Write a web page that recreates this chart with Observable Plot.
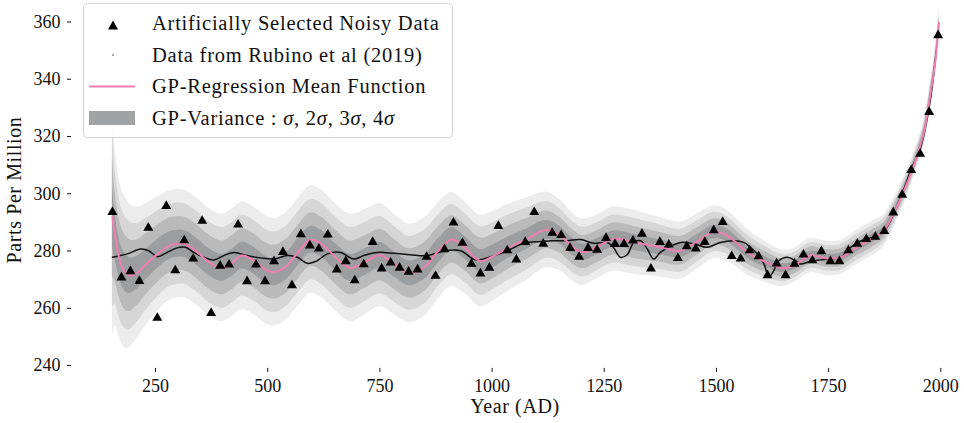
<!DOCTYPE html>
<html><head><meta charset="utf-8">
<script src="https://cdn.jsdelivr.net/npm/d3@7"></script>
<script src="https://cdn.jsdelivr.net/npm/@observablehq/plot@0.6"></script>
<style>
body{margin:0;background:#fff;}
#wrap{position:relative;width:964px;height:423px;font-family:"Liberation Serif","DejaVu Serif",serif;color:#111;}
#legend{position:absolute;left:83px;top:3px;width:370px;height:135px;border:1px solid #d4d4d4;border-radius:4px;background:rgba(255,255,255,0.85);box-sizing:border-box;}
.lt{position:absolute;left:68px;font-size:20.5px;letter-spacing:0.75px;line-height:20px;white-space:nowrap;}
.ax{position:absolute;font-size:20px;letter-spacing:0.6px;white-space:nowrap;}
</style></head>
<body><div id="wrap"></div>
<script>
// GP regression mean and standard deviation
const gpYears=[154,160,167,175,185,194,210,230,255,280,313,340,370,399,420,443,470,495,514,540,570,595,620,650,684,715,751,785,815,850,880,910,940,974,1000,1034,1078,1121,1152,1175,1201,1234,1271,1316,1375,1420,1457,1494,1524,1569,1606,1647,1672,1710,1747,1777,1814,1851,1873,1895,1918,1940,1962,1977,1988,1996];
const gpMean=[292,285,279,274.5,272,271.4,272.5,275.5,279,281.8,282.5,280,276,274.1,275.8,278.4,276.5,273.5,272.6,274.5,280,283.9,282.5,278,274.1,276,278.5,275,272.2,274.5,280,284,281,276.5,278,281,284.2,287.4,285.4,282,279.6,281.5,284.2,283.0,281.3,280.1,283.3,286.6,285.4,279.5,276.4,274.0,274.9,278.4,277.4,277.8,281.4,284.7,287.1,293.2,301.1,310,321,334.8,346.5,359.8];
const gpSigma=[10.5,7.8,7.0,6.7,6.5,6.2,5.7,5.3,5.0,4.8,4.7,4.7,4.7,4.7,4.7,4.7,4.7,4.7,4.7,4.7,4.7,4.7,4.7,4.7,4.7,4.6,4.5,4.4,4.3,4.3,4.2,4.1,4.0,4.0,3.9,3.8,3.6,3.3,3.1,3.0,2.9,2.8,2.8,2.8,2.6,2.5,2.4,2.3,2.2,2.0,1.8,1.6,1.5,1.5,1.5,1.5,1.5,1.5,1.4,1.3,1.2,1.1,1.1,1.1,1.1,1.1];

// Artificially selected noisy data (triangles)
const noisyYears=[154,174,194,214,234,254,274,294,314,334,354,374,394,414,434,454,474,494,514,534,554,574,594,614,634,654,674,694,714,734,754,774,794,814,834,854,874,894,914,934,954,974,994,1014,1034,1054,1074,1094,1114,1134,1154,1174,1194,1214,1234,1254,1274,1294,1314,1334,1354,1374,1394,1414,1434,1454,1474,1494,1514,1534,1554,1574,1594,1614,1634,1654,1674,1694,1714,1734,1754,1774,1794,1814,1834,1854,1874,1894,1914,1934,1954,1974,1994];
const noisyPPM=[294.1,271.2,273.4,270.0,288.6,257.1,296.2,273.7,284.2,277.8,291.0,258.8,275.3,275.7,289.7,269.9,275.7,269.9,276.9,280.1,268.5,286.3,282.4,281.3,286.2,274.0,276.9,270.2,275.8,283.6,274.3,276.4,274.6,273.2,274.0,278.4,271.8,281.1,290.4,283.3,276.0,272.6,274.6,289.2,280.7,277.5,283.6,294.1,283.0,286.8,286.0,281.5,278.4,281.5,280.9,285.0,282.9,282.9,284.1,286.5,274.3,283.6,282.7,278.0,282.1,281.3,283.6,287.7,290.6,278.7,277.8,280.7,278.6,272.0,276.1,272.0,276.0,279.2,277.2,280.4,276.9,276.9,280.7,283.0,284.6,285.4,287.4,293.9,300.1,308.7,314.4,329.0,355.8];

// Data from Rubino et al (2019) (black curve)
const rubinoYears=[154,187,217,235,254,276,298,317,335,358,380,402,425,454,484,514,544,566,588,610,633,662,692,714,744,781,818,856,893,930,963,997,1034,1071,1108,1138,1167,1197,1227,1257,1271,1286,1301,1316,1331,1346,1360,1375,1394,1420,1450,1479,1509,1539,1561,1576,1591,1606,1617,1628,1639,1658,1676,1687,1710,1747,1777,1791,1814,1836,1858,1877,1895,1915,1935,1955,1975,1990];
const rubinoPPM=[277.8,279,280.7,280.1,278,279.5,281.1,281.3,279.5,277.8,276.9,278.4,279.5,278.4,277.6,277.2,278.4,277.8,275.7,276.6,279,279.5,277.2,278.4,279.5,279.2,278.7,278.4,280,280.1,276.9,278.0,280.1,282.7,283.3,283.6,283.6,284.0,282.7,283.0,281.1,277.8,278.7,283.0,283.6,280.7,277.2,279.5,281.3,283.0,282.5,281.3,283.0,283.6,283.0,281.3,279.0,275.5,270.8,273.2,276.6,277.8,276.6,275.5,276.4,277.2,277.8,280.1,283.0,284.2,285.4,287.7,293.0,300.5,309,316,331,350];

const xTicks=[250,500,750,1000,1250,1500,1750,2000];
const yTicks=[240,260,280,300,320,340,360];
const sigmaLevels=[4,3,2,1];
const bandFills=["#ececec","#d6d6d6","#bababa","#9c9d9e"];
const meanColor="#f07fb0";

const gp=gpYears.map((x,i)=>({x,m:gpMean[i],s:gpSigma[i]}));
const noisy=noisyYears.map((x,i)=>({x,y:noisyPPM[i]}));
const rubino=rubinoYears.map((x,i)=>({x,y:rubinoPPM[i]}));

const chart=Plot.plot({
  width:964,height:423,
  marginLeft:71,marginRight:3.5,marginTop:5.7,marginBottom:55.1,
  style:{fontFamily:"'Liberation Serif','DejaVu Serif',serif",fontSize:"18px",color:"#111",background:"transparent"},
  x:{domain:[62.8,2045]},
  y:{domain:[239,365.5]},
  marks:[
    ...sigmaLevels.map((k,j)=>Plot.areaY(gp,{x:"x",y1:d=>d.m-k*d.s,y2:d=>d.m+k*d.s,fill:bandFills[j],curve:"catmull-rom"})),
    Plot.line(rubino,{x:"x",y:"y",stroke:"#111",strokeWidth:1.5,curve:"catmull-rom"}),
    Plot.line(gp,{x:"x",y:"m",stroke:meanColor,strokeWidth:2,curve:"catmull-rom"}),
    Plot.dot(noisy,{x:"x",y:"y",symbol:"triangle",r:3.7,fill:"#000",stroke:null,dy:1.4}),
    Plot.axisX({ticks:xTicks,tickSize:4,tickPadding:7,label:null,fontSize:18,tickFormat:d=>String(d)}),
    Plot.axisY({ticks:yTicks,tickSize:4,tickPadding:7,label:null,fontSize:18,tickFormat:d=>String(d)})
  ]
});
const wrap=document.getElementById("wrap");
wrap.appendChild(chart);
chart.style.position="absolute";chart.style.left="0";chart.style.top="0";

// axis titles
const xl=document.createElement("div");xl.className="ax";xl.textContent="Year (AD)";
xl.style.left="515px";xl.style.top="395px";xl.style.transform="translateX(-50%)";wrap.appendChild(xl);
const yl=document.createElement("div");yl.className="ax";yl.textContent="Parts Per Million";
yl.style.left="14px";yl.style.top="190px";yl.style.transform="translate(-50%,-50%) rotate(-90deg)";wrap.appendChild(yl);

// legend
const lg=document.createElement("div");lg.id="legend";
lg.innerHTML=`<svg width="60" height="135" style="position:absolute;left:0;top:0">
<path d="M29,16.5 L34,25.5 L24,25.5 Z" fill="#000"/>
<circle cx="29" cy="51" r="0.8" fill="#333"/>
<line x1="5" y1="82.5" x2="51" y2="82.5" stroke="${meanColor}" stroke-width="2"/>
<rect x="5" y="107" width="46" height="14" fill="#a0a2a4"/></svg>
<div class="lt" style="top:9px">Artificially Selected Noisy Data</div>
<div class="lt" style="top:41px">Data from Rubino et al (2019)</div>
<div class="lt" style="top:72px">GP-Regression Mean Function</div>
<div class="lt" style="top:104px">GP-Variance : <i>σ</i>, 2<i>σ</i>, 3<i>σ</i>, 4<i>σ</i></div>`;
wrap.appendChild(lg);
</script></body></html>
